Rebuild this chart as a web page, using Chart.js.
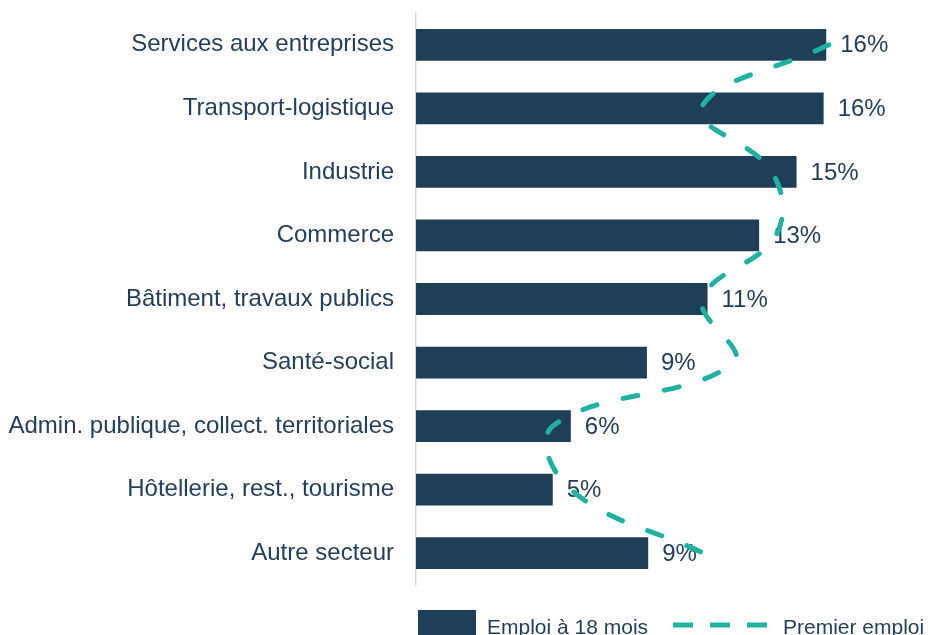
<!DOCTYPE html>
<html><head><meta charset="utf-8">
<script src="https://cdn.jsdelivr.net/npm/chart.js@4"></script>
<style>html,body{margin:0;padding:0;background:#fff;overflow:hidden}canvas{display:block}</style>
</head><body>
<canvas id="c" width="933" height="635"></canvas>
<script>
const categories = [
  'Services aux entreprises',
  'Transport-logistique',
  'Industrie',
  'Commerce',
  'Bâtiment, travaux publics',
  'Santé-social',
  'Admin. publique, collect. territoriales',
  'Hôtellerie, rest., tourisme',
  'Autre secteur'
];
const emploi18Mois = [15.9, 15.8, 14.75, 13.3, 11.3, 8.95, 6.0, 5.3, 9.0];
const premierEmploi = [16.0, 11.05, 13.8, 13.95, 11.1, 12.3, 5.3, 6.0, 11.15];
const seriesNames = ['Emploi à 18 mois', 'Premier emploi'];
const xMin = 0, xMax = 20;

const NAVY = '#1f3e58', TEAL = '#1fb2a2', TEXT = '#233f5a';
const FONT = '"Liberation Sans", Arial, sans-serif';

const labelPlugin = {
  id: 'barLabels',
  afterDatasetDraw(chart, args) {
    if (args.index !== 0) return;
    const ctx = chart.ctx;
    ctx.save();
    ctx.font = '24px ' + FONT;
    ctx.fillStyle = TEXT;
    ctx.textBaseline = 'middle';
    ctx.textAlign = 'left';
    args.meta.data.forEach((el, i) => {
      ctx.fillText(Math.round(chart.data.datasets[0].data[i]) + '%', el.x + 14, el.y + 1);
    });
    ctx.restore();
  }
};

const legendPlugin = {
  id: 'customLegend',
  afterDraw(chart) {
    const ctx = chart.ctx;
    const ds = chart.data.datasets;
    ctx.save();
    ctx.font = '21px ' + FONT;
    ctx.textBaseline = 'alphabetic';
    ctx.textAlign = 'left';
    ctx.fillStyle = ds[0].backgroundColor;
    ctx.fillRect(418, 610, 58, 30);
    ctx.fillStyle = TEXT;
    ctx.fillText(ds[0].label, 487, 634);
    ctx.strokeStyle = ds[1].borderColor;
    ctx.lineWidth = 5;
    ctx.lineCap = 'butt';
    ctx.setLineDash([20, 17]);
    ctx.beginPath();
    ctx.moveTo(673, 625);
    ctx.lineTo(768, 625);
    ctx.stroke();
    ctx.setLineDash([]);
    ctx.fillText(ds[1].label, 783, 634);
    ctx.restore();
  }
};

new Chart(document.getElementById('c'), {
  type: 'bar',
  data: {
    labels: categories,
    datasets: [
      {
        label: seriesNames[0],
        data: emploi18Mois,
        backgroundColor: NAVY,
        barPercentage: 0.5,
        categoryPercentage: 1,
        order: 1
      },
      {
        type: 'line',
        label: seriesNames[1],
        data: premierEmploi,
        indexAxis: 'y',
        borderColor: TEAL,
        backgroundColor: TEAL,
        borderWidth: 5,
        borderDash: [15, 27],
        borderCapStyle: 'round',
        tension: 0.4,
        pointRadius: 0,
        fill: false,
        order: 0
      }
    ]
  },
  options: {
    indexAxis: 'y',
    responsive: false,
    animation: false,
    layout: { padding: { top: 13, bottom: 50, right: 1, left: 0 } },
    plugins: { legend: { display: false }, tooltip: { enabled: false } },
    scales: {
      x: { display: false, min: xMin, max: xMax },
      y: {
        grid: { display: false, drawTicks: false },
        border: { display: true, color: '#d9d9d9', width: 1.5 },
        ticks: { font: { family: FONT, size: 24 }, color: TEXT, padding: 22 },
        afterFit(s) { s.width = 416; s.paddingTop = 0; s.paddingBottom = 0; }
      }
    }
  },
  plugins: [labelPlugin, legendPlugin]
});
</script>
</body></html>
